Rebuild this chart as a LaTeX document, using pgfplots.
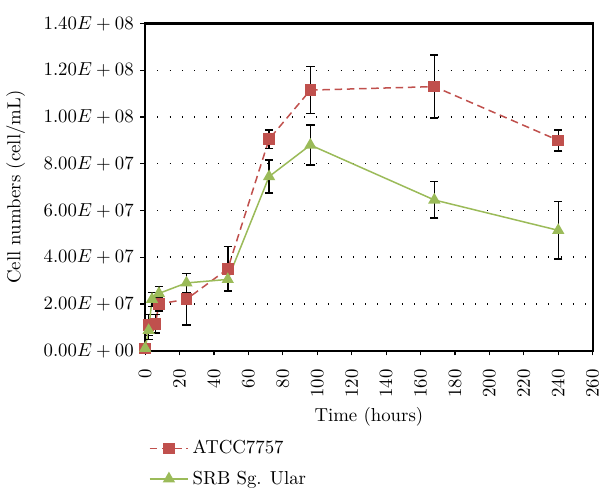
\documentclass[border=0pt]{standalone}
\usepackage{pgfplots}
\usepackage{pgfplotstable}
\pgfplotsset{compat=1.18}
\definecolor{cred}{HTML}{C0504D}
\definecolor{cgreen}{HTML}{9BBB59}

% time, mean, sd
\pgfplotstableread{
t y e
0 1.0e6 0.3e6
2 1.1e7 0.45e7
6 1.15e7 0.4e7
8 2.0e7 0.3e7
24 2.2e7 1.1e7
48 3.5e7 0.95e7
72 9.05e7 0.4e7
96 1.115e8 1.0e7
168 1.13e8 1.35e7
240 9.0e7 0.45e7
}\atcc

\pgfplotstableread{
t y e
0 1.0e6 0.3e6
2 0.87e7 0.4e7
4 2.2e7 0.3e7
8 2.45e7 0.3e7
24 2.9e7 0.4e7
48 3.05e7 0.5e7
72 7.45e7 0.7e7
96 8.8e7 0.85e7
168 6.45e7 0.78e7
240 5.15e7 1.23e7
}\srb

\begin{document}
\begin{tikzpicture}
\begin{axis}[
    name=ax,
    scale only axis,
    width=238pt, height=174pt,
    xmin=0, xmax=260, ymin=0, ymax=1.4e8,
    xtick={0,20,...,260},
    ytick={0,2e7,4e7,6e7,8e7,1e8,1.2e8,1.4e8},
    yticklabels={$0.00E+00$,$2.00E+07$,$4.00E+07$,$6.00E+07$,$8.00E+07$,$1.00E+08$,$1.20E+08$,$1.40E+08$},
    scaled y ticks=false,
    xticklabel style={yshift=-4pt, rotate=90, anchor=east},
    tick align=outside, xtick pos=bottom, ytick pos=left,
    major tick length=2.5pt,
    axis line style={line width=1.2pt},
    tick style={black, line width=0.6pt},
    ymajorgrids,
    major grid style={black, line width=0.8pt, dash pattern=on 0.5pt off 6pt},
    xlabel={Time (hours)}, ylabel={Cell numbers (cell/mL)},
    xlabel style={yshift=1.5pt},
    ylabel style={yshift=3pt},
    legend style={at={(-0.005,-0.25)}, anchor=north west, draw=none, fill=none, row sep=3.5pt},
    legend cell align=left,
    legend image code/.code={\draw[mark repeat=2, mark phase=2, #1] plot coordinates {(0cm,0cm) (0.36cm,0cm) (0.72cm,0cm)};},
]
\addplot[cred, line width=0.8pt, dash pattern=on 4pt off 2.5pt, mark=square*, mark size=2.7pt,
    mark options={solid},
    error bars/.cd, y dir=both, y explicit,
    error bar style={black, line width=0.8pt, solid},
    error mark options={black, rotate=90, mark size=2.2pt, line width=0.8pt}]
    table[x=t, y=y, y error=e] {\atcc};
\addlegendentry{ATCC7757}
\addplot[cgreen, line width=0.8pt, mark=triangle*, mark size=3pt,
    error bars/.cd, y dir=both, y explicit,
    error bar style={black, line width=0.8pt},
    error mark options={black, rotate=90, mark size=2.2pt, line width=0.8pt}]
    table[x=t, y=y, y error=e] {\srb};
\addlegendentry{SRB Sg. Ular}
\end{axis}
% white space above the plot, as in the reference
\path ([yshift=12.5pt]ax.north west);
\end{tikzpicture}
\end{document}
